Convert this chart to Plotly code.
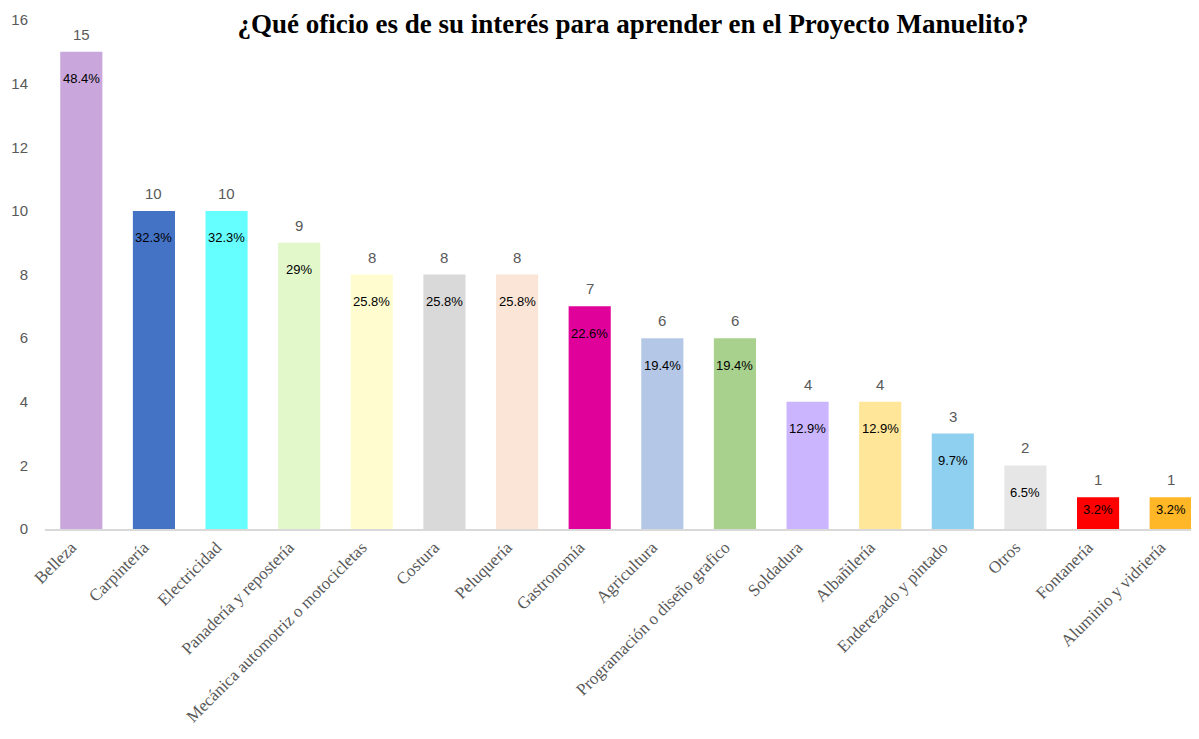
import plotly.graph_objects as go

categories = ["Belleza", "Carpintería", "Electricidad", "Panadería y repostería",
              "Mecánica automotriz o motocicletas", "Costura", "Peluquería", "Gastronomía",
              "Agricultura", "Programación o diseño grafico", "Soldadura", "Albañilería",
              "Enderezado y pintado", "Otros", "Fontanería", "Aluminio y vidriería"]
counts = [15, 10, 10, 9, 8, 8, 8, 7, 6, 6, 4, 4, 3, 2, 1, 1]
percents = ["48.4%", "32.3%", "32.3%", "29%", "25.8%", "25.8%", "25.8%", "22.6%",
            "19.4%", "19.4%", "12.9%", "12.9%", "9.7%", "6.5%", "3.2%", "3.2%"]
colors = ["#C9A6DB", "#4472C4", "#66FFFF", "#E2F8CB", "#FFFDD0", "#D9D9D9", "#FBE5D6",
          "#E0009A", "#B4C7E7", "#A9D18E", "#CBB5FF", "#FFE699", "#8FD0F0", "#E6E6E6",
          "#FF0000", "#FFB727"]
y_ticks = [0, 2, 4, 6, 8, 10, 12, 14, 16]

x_idx = list(range(len(categories)))

fig = go.Figure()
fig.add_trace(go.Bar(x=x_idx, y=counts, marker=dict(color=colors, line=dict(width=0)),
                     width=0.58, showlegend=False, hoverinfo="skip"))

annotations = []
for i, (c, p) in enumerate(zip(counts, percents)):
    annotations.append(dict(x=i, y=c, xref="x", yref="y", text=str(c), showarrow=False,
                            yanchor="bottom", yshift=7,
                            font=dict(family="Liberation Sans", size=15, color="#595959")))
    annotations.append(dict(x=i, y=c, xref="x", yref="y", text=p, showarrow=False,
                            yanchor="middle", yshift=-27 if c > 1 else -12,
                            font=dict(family="Liberation Sans", size=13, color="#000000")))

fig.update_layout(
    width=1199, height=739,
    margin=dict(l=37, r=0, t=12, b=218),
    paper_bgcolor="white", plot_bgcolor="white",
    title=dict(text="<b>¿Qué oficio es de su interés para aprender en el Proyecto Manuelito?</b>",
               x=625 / 1199, xanchor="center", y=1 - 16 / 739, yanchor="middle",
               font=dict(family="Liberation Serif", size=27, color="#000000")),
    xaxis=dict(tickmode="array", tickvals=x_idx, ticktext=categories, tickangle=-45,
               range=[-0.5, 15.5], showgrid=False, zeroline=False,
               showline=True, linecolor="#D9D9D9", linewidth=1.5, ticks="",
               ticklabelshift=-10,
               tickfont=dict(family="Liberation Serif", size=17, color="#595959")),
    yaxis=dict(range=[0, 16], tickvals=y_ticks, showgrid=False, zeroline=False,
               showline=False, ticks="", ticklabelstandoff=16,
               tickfont=dict(family="Liberation Sans", size=15, color="#595959")),
    annotations=annotations,
)

fig.write_html("out.html")
